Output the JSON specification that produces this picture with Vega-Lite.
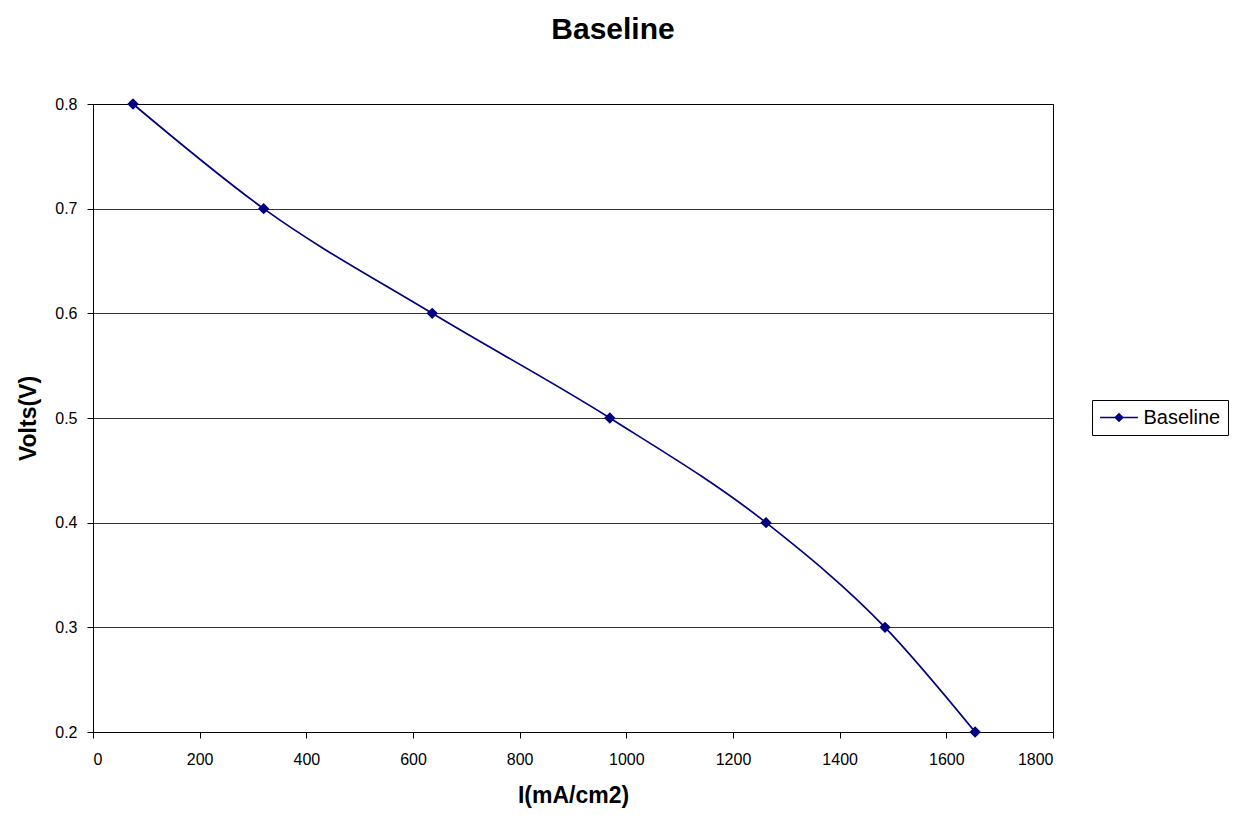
{
  "$schema": "https://vega.github.io/schema/vega-lite/v6.json",
  "width": 960,
  "height": 628,
  "autosize": "none",
  "padding": {"left": 93, "top": 104, "right": 180, "bottom": 83},
  "background": "white",
  "config": {
    "font": "Liberation Sans",
    "view": {"stroke": "black", "strokeWidth": 1}
  },
  "title": {
    "text": "Baseline",
    "fontSize": 30,
    "fontWeight": "bold",
    "font": "Liberation Sans",
    "color": "black",
    "anchor": "middle",
    "dx": 40,
    "offset": 51
  },
  "data": {
    "values": [
      {"I": 75, "V": 0.8, "series": "Baseline"},
      {"I": 320, "V": 0.7, "series": "Baseline"},
      {"I": 636, "V": 0.6, "series": "Baseline"},
      {"I": 969, "V": 0.5, "series": "Baseline"},
      {"I": 1262, "V": 0.4, "series": "Baseline"},
      {"I": 1485, "V": 0.3, "series": "Baseline"},
      {"I": 1654, "V": 0.2, "series": "Baseline"}
    ]
  },
  "encoding": {
    "x": {
      "field": "I", "type": "quantitative",
      "scale": {"domain": [0, 1800], "nice": false, "zero": false},
      "axis": {
        "title": "I(mA/cm2)", "titleFontSize": 23, "titleFontWeight": "bold", "titleColor": "black",
        "titlePadding": 17,
        "values": [0, 200, 400, 600, 800, 1000, 1200, 1400, 1600, 1800],
        "format": "d",
        "labelFontSize": 16, "labelColor": "black", "labelPadding": 13,
        "tickColor": "black", "tickSize": 6, "domainColor": "black", "grid": false
      }
    },
    "y": {
      "field": "V", "type": "quantitative",
      "scale": {"domain": [0.2, 0.8], "nice": false, "zero": false},
      "axis": {
        "title": "Volts(V)", "titleFontSize": 23, "titleFontWeight": "bold", "titleColor": "black",
        "titlePadding": 14,
        "values": [0.2, 0.3, 0.4, 0.5, 0.6, 0.7, 0.8],
        "format": ".1f",
        "labelFontSize": 16, "labelColor": "black", "labelPadding": 10,
        "tickColor": "black", "tickSize": 6, "domainColor": "black",
        "grid": true, "gridColor": "black", "gridWidth": 0.8
      }
    },
    "color": {
      "field": "series", "type": "nominal",
      "scale": {"range": ["#000080"]},
      "legend": {
        "title": null,
        "orient": "none",
        "legendX": 999,
        "legendY": 296,
        "labelFontSize": 20,
        "labelColor": "black",
        "symbolType": "M-2,0H2M0,-0.4L0.4,0L0,0.4L-0.4,0Z",
        "symbolSize": 361,
        "symbolOffset": 9.5,
        "labelOffset": 14,
        "symbolStrokeWidth": 1.5,
        "symbolFillColor": "#000080",
        "strokeColor": "black",
        "padding": 7,
        "fillColor": "white"
      }
    }
  },
  "layer": [
    {"mark": {"type": "line", "interpolate": "monotone", "strokeWidth": 1.7}},
    {"mark": {"type": "point", "shape": "diamond", "filled": true, "size": 130, "opacity": 1}}
  ]
}
